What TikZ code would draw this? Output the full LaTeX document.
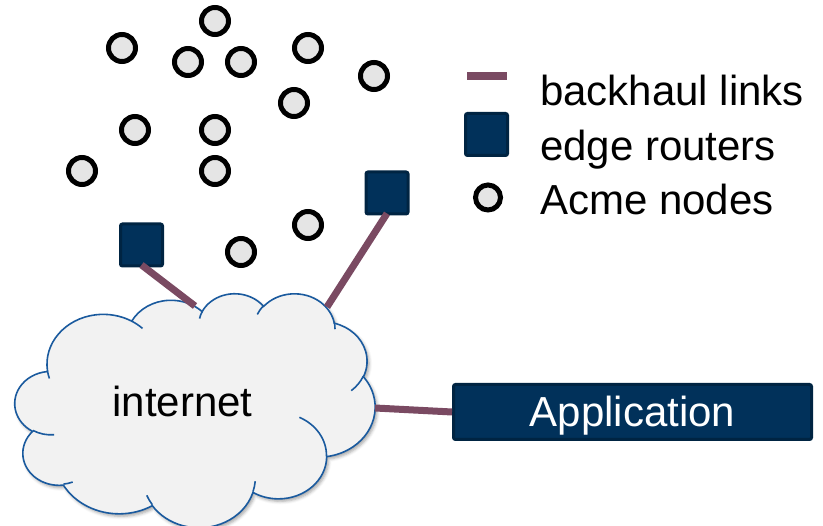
\documentclass[tikz,border=0pt]{standalone}
\usepackage{fontspec}
\setmainfont{Liberation Sans}
\usetikzlibrary{shadows.blur}
\definecolor{linkcol}{RGB}{122,74,98}
\definecolor{navy}{RGB}{1,49,90}
\definecolor{navyedge}{RGB}{0,36,66}
\definecolor{cloudfill}{RGB}{242,242,242}
\definecolor{cloudline}{RGB}{26,90,158}
\definecolor{nodefill}{RGB}{229,229,229}
% arc given as in DrawingML: x radius, y radius, visual start angle, sweep
\newcommand\carc[4]{arc[start angle={atan2((#1)*sin(#3),(#2)*cos(#3))}, delta angle={mod(atan2((#1)*sin((#3)+(#4)),(#2)*cos((#3)+(#4)))-atan2((#1)*sin(#3),(#2)*cos(#3))+720,360)}, x radius=#1, y radius=#2]}
\tikzset{
  acme/.style={circle, draw=black, line width=5pt, fill=nodefill, minimum size=27pt, inner sep=0pt},
  router/.style={rectangle, draw=navyedge, line width=3pt, fill=navy, minimum size=42pt, inner sep=0pt, rounded corners=2pt},
  appbox/.style={rectangle, draw=navyedge, line width=3pt, fill=navy, minimum width=358pt, minimum height=55pt, inner sep=0pt, rounded corners=2pt, text=white, font=\bigfont, text height=34pt, text depth=5pt},
  link/.style={draw=linkcol, line width=7pt},
  cloudout/.style={draw=cloudline, line width=1.6pt, fill=cloudfill, blur shadow={shadow xshift=2pt, shadow yshift=-2.5pt, shadow blur radius=3pt, shadow opacity=35}},
  cloudin/.style={draw=cloudline, line width=1.6pt},
  label/.style={inner sep=0pt, font=\bigfont, text=black}
}
\newcommand\bigfont{\fontsize{42}{50}\selectfont}
\begin{document}
\begin{tikzpicture}[x=1pt, y=-1pt]
\useasboundingbox (0,0) rectangle (823,526);
% cloud (DrawingML cloud preset, frame 15..375 x 293..527)
\begin{scope}[shift={(15,293)}, x=8.3333pt, y=-5.4167pt]
\draw[cloudout] (3.900,14.370)
 \carc{6.753}{9.190}{-190.4875}{123.7805}
 \carc{5.333}{7.267}{-144.1024}{89.9452}
 \carc{4.365}{5.945}{-145.8079}{99.7230}
 \carc{4.857}{6.595}{-130.9861}{117.2417}
 \carc{5.333}{7.273}{-78.7089}{109.0269}
 \carc{6.775}{9.220}{-46.2673}{130.2690}
 \carc{5.785}{7.867}{0.6250}{114.0333}
 \carc{6.752}{9.215}{22.4516}{115.1726}
 \carc{7.720}{10.543}{66.2426}{75.7110}
 \carc{4.360}{5.918}{-274.9421}{146.7356}
 \carc{4.345}{5.945}{-246.8285}{152.5189}
 -- cycle;
\draw[cloudin]
 (4.693,26.177) \carc{4.345}{5.945}{86.742}{26.4295}
 (6.928,34.899) \carc{4.360}{5.918}{73.6105}{11.4475}
 (16.478,39.090) \carc{6.752}{9.215}{137.6242}{14.0811}
 (28.827,34.751) \carc{6.752}{9.215}{6.4533}{15.9984}
 (34.129,22.954) \carc{5.785}{7.867}{-70.2924}{70.9174}
 (41.798,15.354) \carc{5.333}{7.273}{30.3180}{27.7515}
 (38.324,5.426) \carc{4.857}{6.595}{-13.7443}{14.8589}
 (29.078,3.952) \carc{4.857}{6.595}{-149.1815}{18.1954}
 (22.141,4.720) \carc{4.365}{5.945}{-163.4943}{17.6864}
 (14.000,5.192) \carc{6.753}{9.190}{-66.7070}{12.3194}
 (4.127,15.789) \carc{6.753}{9.190}{157.6544}{11.8582};
\end{scope}
\node[label, anchor=base] (inet) at (182.5,416.7) {internet};
% Acme nodes
\node[acme] (n1) at (215,21) {};
\node[acme] (n2) at (122,48) {};
\node[acme] (n3) at (188,62) {};
\node[acme] (n4) at (241,62) {};
\node[acme] (n5) at (308,48) {};
\node[acme] (n6) at (374,76) {};
\node[acme] (n7) at (294,103) {};
\node[acme] (n8) at (135,130) {};
\node[acme] (n9) at (215,130) {};
\node[acme] (n10) at (82,171) {};
\node[acme] (n11) at (215,171) {};
\node[acme] (n12) at (308,225) {};
\node[acme] (n13) at (241,252) {};
% edge routers
\node[router] (r1) at (141.5,245) {};
\node[router] (r2) at (387,193) {};
% application
\node[appbox] (app) at (632.5,412) {Application};
% backhaul links
\coordinate (c1) at (195,306);
\coordinate (c2) at (327,307);
\coordinate (c3) at (375,408);
\draw[link] ([yshift=2.5pt]r1.south) -- (c1);
\draw[link] ([yshift=2pt]r2.south) -- (c2);
\draw[link] (c3) -- (app.west);
% legend
\coordinate (l1a) at (467,76);
\coordinate (l1b) at (507,76);
\draw[link, line width=8pt] (l1a) -- (l1b);
\node[router] (lr) at (486.5,134.5) {};
\node[acme, minimum size=25pt] (ln) at (488,197.5) {};
\node[label, anchor=base west] (t1) at (540,106) {backhaul links};
\node[label, anchor=base west] (t2) at (540,161) {edge routers};
\node[label, anchor=base west] (t3) at (540,215) {Acme nodes};
\end{tikzpicture}
\end{document}
